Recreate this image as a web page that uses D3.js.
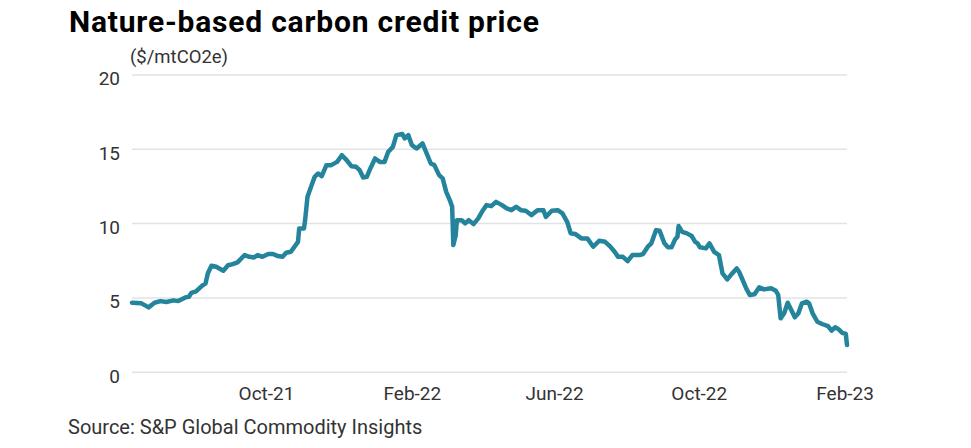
<!DOCTYPE html>
<html>
<head>
<meta charset="utf-8">
<script src="https://cdn.jsdelivr.net/npm/d3@7"></script>
<style>
  body { margin: 0; background: #fff; }
  text { font-family: Roboto, "Noto Sans", sans-serif; }
</style>
</head>
<body>
<div id="chart"></div>
<script>
const dates = [
  "2021-06-10","2021-06-18","2021-06-24","2021-06-29","2021-07-04","2021-07-09","2021-07-15","2021-07-19",
  "2021-07-25","2021-07-28","2021-07-30","2021-08-03","2021-08-08","2021-08-11","2021-08-13","2021-08-16",
  "2021-08-20","2021-08-26","2021-08-30","2021-09-03","2021-09-07","2021-09-13","2021-09-17","2021-09-21",
  "2021-09-24","2021-09-28","2021-10-03","2021-10-07","2021-10-11","2021-10-15","2021-10-18","2021-10-22",
  "2021-10-25","2021-10-28","2021-10-29","2021-11-02","2021-11-03","2021-11-05","2021-11-08","2021-11-11",
  "2021-11-14","2021-11-17","2021-11-21","2021-11-25","2021-11-30","2021-12-04","2021-12-08","2021-12-12",
  "2021-12-16","2021-12-19","2021-12-22","2021-12-25","2021-12-28","2022-01-01","2022-01-05","2022-01-09",
  "2022-01-12","2022-01-16","2022-01-19","2022-01-24","2022-01-26","2022-01-29","2022-02-01","2022-02-05",
  "2022-02-10","2022-02-17","2022-02-20","2022-02-24","2022-02-27","2022-03-02","2022-03-05","2022-03-07",
  "2022-03-08","2022-03-10","2022-03-11","2022-03-15","2022-03-18","2022-03-21","2022-03-25","2022-03-29",
  "2022-04-02","2022-04-05","2022-04-09","2022-04-13","2022-04-18","2022-04-22","2022-04-26","2022-04-30",
  "2022-05-04","2022-05-08","2022-05-13","2022-05-18","2022-05-23","2022-05-25","2022-05-30","2022-06-04",
  "2022-06-08","2022-06-12","2022-06-15","2022-06-19","2022-06-24","2022-06-29","2022-07-04","2022-07-09",
  "2022-07-14","2022-07-18","2022-07-22","2022-07-25","2022-07-29","2022-08-02","2022-08-06","2022-08-12",
  "2022-08-15","2022-08-19","2022-08-22","2022-08-26","2022-08-29","2022-09-02","2022-09-05","2022-09-08",
  "2022-09-11","2022-09-13","2022-09-14","2022-09-17","2022-09-21","2022-09-25","2022-09-28","2022-09-30",
  "2022-10-02","2022-10-07","2022-10-10","2022-10-14","2022-10-18","2022-10-21","2022-10-25","2022-10-28",
  "2022-11-02","2022-11-04","2022-11-07","2022-11-10","2022-11-13","2022-11-17","2022-11-21","2022-11-25",
  "2022-12-01","2022-12-05","2022-12-07","2022-12-09","2022-12-12","2022-12-15","2022-12-18","2022-12-21",
  "2022-12-24","2022-12-27","2022-12-31","2023-01-02","2023-01-05","2023-01-09","2023-01-13","2023-01-18",
  "2023-01-21","2023-01-24","2023-01-27","2023-01-30","2023-02-02","2023-02-03"
];
const prices = [
  4.64,4.60,4.33,4.64,4.75,4.69,4.80,4.75,
  5.00,5.04,5.31,5.41,5.78,5.94,6.62,7.13,
  7.06,6.79,7.16,7.24,7.36,7.85,7.73,7.69,
  7.85,7.73,7.92,7.92,7.78,7.73,8.00,8.07,
  8.41,8.74,9.64,9.64,10.20,11.77,12.44,13.11,
  13.34,13.16,13.90,13.90,14.12,14.57,14.24,13.83,
  13.79,13.56,13.07,13.11,13.68,14.35,14.12,14.12,
  14.79,15.13,15.92,15.99,15.70,15.92,15.25,15.02,
  15.36,14.01,13.90,13.23,13.01,12.10,11.55,11.10,
  8.52,9.19,10.20,10.20,9.98,10.20,9.93,10.32,
  10.87,11.21,11.14,11.43,11.21,10.99,10.87,11.10,
  10.87,10.83,10.54,10.87,10.87,10.42,10.83,10.87,
  10.65,10.09,9.31,9.26,8.97,8.97,8.41,8.81,
  8.74,8.45,8.07,7.73,7.73,7.44,7.85,7.85,
  7.92,8.41,8.64,9.53,9.48,8.64,8.37,8.37,
  8.90,9.08,9.80,9.41,9.31,9.13,8.74,8.64,
  8.37,8.30,8.64,8.07,7.85,6.62,6.21,6.50,
  6.95,6.72,6.17,5.61,5.16,5.21,5.68,5.54,
  5.61,5.45,5.16,3.59,3.93,4.64,4.15,3.66,
  3.93,4.60,4.71,4.60,3.93,3.36,3.21,3.07,
  2.76,2.99,2.85,2.62,2.54,1.80
];
const xTickDates = ["2021-10-01", "2022-02-01", "2022-06-01", "2022-10-01", "2023-02-01"];
const xTickLabels = ["Oct-21", "Feb-22", "Jun-22", "Oct-22", "Feb-23"];
const yTicks = [0, 5, 10, 15, 20];

const parse = d3.timeParse("%Y-%m-%d");
const data = dates.map((d, i) => ({ date: parse(d), value: prices[i] }));

const W = 971, H = 448;
var margin = { top: 74.5, right: 124, bottom: 76.3, left: 132 },
  width = W - margin.left - margin.right,
  height = H - margin.top - margin.bottom;

const svg = d3.select("#chart").append("svg").attr("width", W).attr("height", H);

svg.append("text")
  .attr("x", 69).attr("y", 32)
  .attr("font-size", 30).attr("font-weight", 700).attr("fill", "#000")
  .attr("letter-spacing", 0.8)
  .text("Nature-based carbon credit price");

svg.append("text")
  .attr("x", 130).attr("y", 63)
  .attr("font-size", 18.5).attr("fill", "#333")
  .text("($/mtCO2e)");

const g = svg.append("g").attr("transform", `translate(${margin.left},${margin.top})`);

var x = d3.scaleTime()
  .domain([parse(dates[0]), parse(dates[dates.length - 1])])
  .range([0, width]);
var y = d3.scaleLinear().domain([0, 20]).range([height, 0]);

// gridlines + y labels
g.append("g")
  .attr("class", "y axis")
  .call(d3.axisLeft(y).tickValues(yTicks).tickSize(-width).tickPadding(12))
  .call((a) => a.select(".domain").remove())
  .call((a) => a.selectAll(".tick line").attr("stroke", "#e3e3e3").attr("stroke-width", 1.5))
  .call((a) => a.selectAll(".tick text")
    .attr("font-size", 19).attr("fill", "#333").attr("dy", "0.55em")
    .attr("font-family", "Roboto, sans-serif"));

g.append("g")
  .attr("class", "x axis")
  .attr("transform", `translate(0,${height})`)
  .call(d3.axisBottom(x)
    .tickValues(xTickDates.map(parse))
    .tickFormat((d, i) => xTickLabels[i])
    .tickSize(0).tickPadding(15))
  .call((a) => a.select(".domain").remove())
  .call((a) => a.selectAll(".tick text")
    .attr("font-size", 19).attr("fill", "#333")
    .attr("font-family", "Roboto, sans-serif"));

g.append("path")
  .datum(data)
  .attr("fill", "none")
  .attr("stroke", "#23849b")
  .attr("stroke-width", 4.5)
  .attr("stroke-linejoin", "round")
  .attr("stroke-linecap", "round")
  .attr("d", d3.line().x((d) => x(d.date)).y((d) => y(d.value)));

svg.append("text")
  .attr("x", 68).attr("y", 434)
  .attr("font-size", 20).attr("fill", "#333")
  .text("Source: S&P Global Commodity Insights");
</script>
</body>
</html>
